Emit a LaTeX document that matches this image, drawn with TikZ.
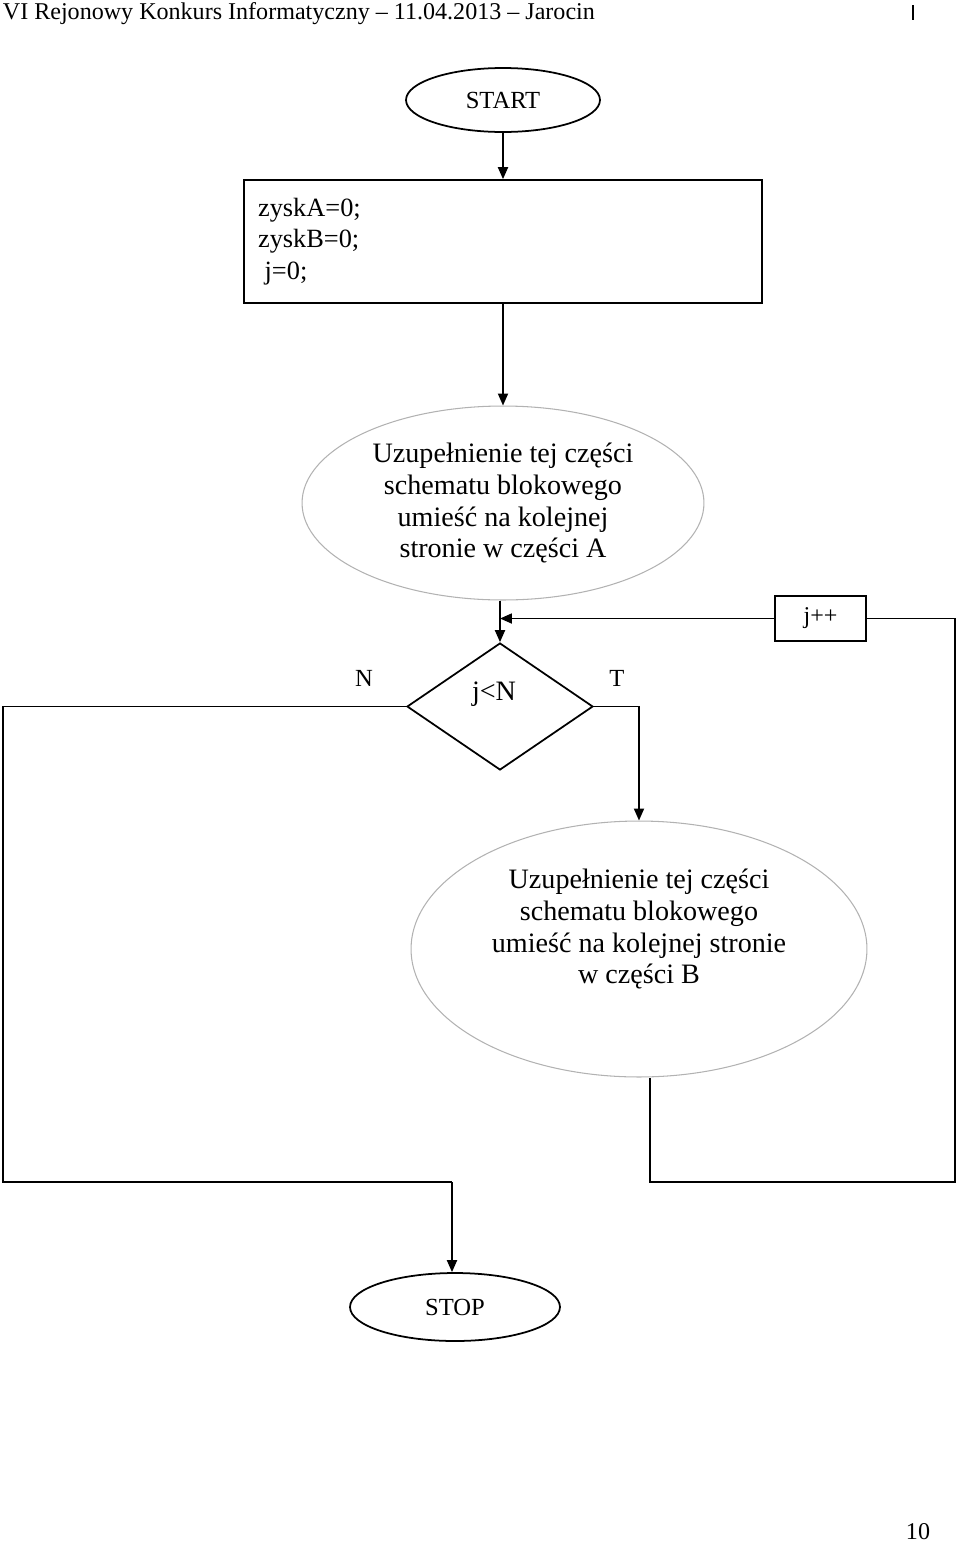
\documentclass[tikz,border=0pt]{standalone}
\usepackage{fontspec}
\setmainfont{Liberation Serif}
\usetikzlibrary{arrows.meta,shapes.geometric}

\begin{document}
\begin{tikzpicture}[x=0.02cm,y=-0.02cm,line width=1pt,
    terminal/.style={ellipse,draw,inner sep=0pt,font=\fontsize{14}{16}\selectfont},
    hint/.style={ellipse,draw=black!30,line width=0.6pt,inner sep=0pt,align=center,
      font=\fontsize{16}{18.2}\selectfont},
    process/.style={rectangle,draw}]
  \useasboundingbox (0,0) rectangle (960,1542);

  % header and page number
  \node[anchor=base west,inner sep=0pt,font=\fontsize{13.7}{16}\selectfont] (head) at (2,19)
    {VI Rejonowy Konkurs Informatyczny – 11.04.2013 – Jarocin};
  \draw[line width=0.6pt] (913,5) -- (913,20);
  \node[anchor=base,inner sep=0pt,font=\fontsize{13.7}{16}\selectfont] (page) at (918,1539) {10};

  \begin{scope}
    \node[terminal,minimum width=3.88cm,minimum height=1.28cm] (start) at (503,100) {START};
    \node[process,minimum height=2.46cm,text width=9.8cm,inner xsep=0.28cm,align=left,
      font=\fontsize{15}{17.9}\selectfont] (init) at (503,241.5)
      {zyskA=0;\\zyskB=0;\\\hspace{0.25em}j=0;};
    \node[hint,minimum width=8.04cm,minimum height=3.88cm] (partA) at (503,503)
      {Uzupełnienie tej części\\schematu blokowego\\umieść na kolejnej\\stronie w części A};
    \node[diamond,draw,inner sep=0pt,minimum width=3.72cm,minimum height=2.54cm,
      font=\fontsize{16}{18}\selectfont,
      label={[xshift=-0.12cm,yshift=0.24cm,font=\fontsize{16}{18}\selectfont]center:j<N},
      label={[xshift=-2.72cm,yshift=0.56cm,font=\fontsize{14}{16}\selectfont]center:N},
      label={[xshift=2.34cm,yshift=0.56cm,font=\fontsize{14}{16}\selectfont]center:T}]
      (cond) at (500,706.5) {};
    \node[process,minimum width=1.82cm,minimum height=0.9cm,
      font=\fontsize{13.7}{16}\selectfont] (inc) at (820.5,618.5) {j++};
    \node[hint,minimum width=9.12cm,minimum height=5.12cm,
      label={[yshift=0.4cm,align=center,font=\fontsize{16}{18.2}\selectfont]center:%
        {Uzupełnienie tej części\\schematu blokowego\\umieść na kolejnej stronie\\w części B}}]
      (partB) at (639,949) {};
    \node[terminal,minimum width=4.2cm,minimum height=1.36cm] (stop) at (455,1307) {STOP};
  \end{scope}

  \coordinate (rt) at (955,618.5);
  \coordinate (rb) at (955,1182);
  \coordinate (rl) at (650,1182);
  \coordinate (lt) at (3,706.5);
  \coordinate (lb) at (3,1182);
  \coordinate (lm) at (452,1182);

  \begin{scope}[>={Triangle[length=6.8pt,width=5.7pt]}]
    \path (start) edge[->] (init);
    \path (init) edge[->] (partA);
    \path (partA.south -| cond.north) edge[->] (cond.north);
    \draw[->] (inc.west) -- (inc.west -| cond.north);
    \draw (inc.east) -- (rt) -- (rb) -- (rl) -- (partB.south -| rl);
    \draw[->] (cond.east) -| (partB.north);
    \draw (cond.west) -- (lt) -- (lb) -- (lm);
    \draw[->] (lm) -- (lm |- stop.north);
  \end{scope}
\end{tikzpicture}
\end{document}
